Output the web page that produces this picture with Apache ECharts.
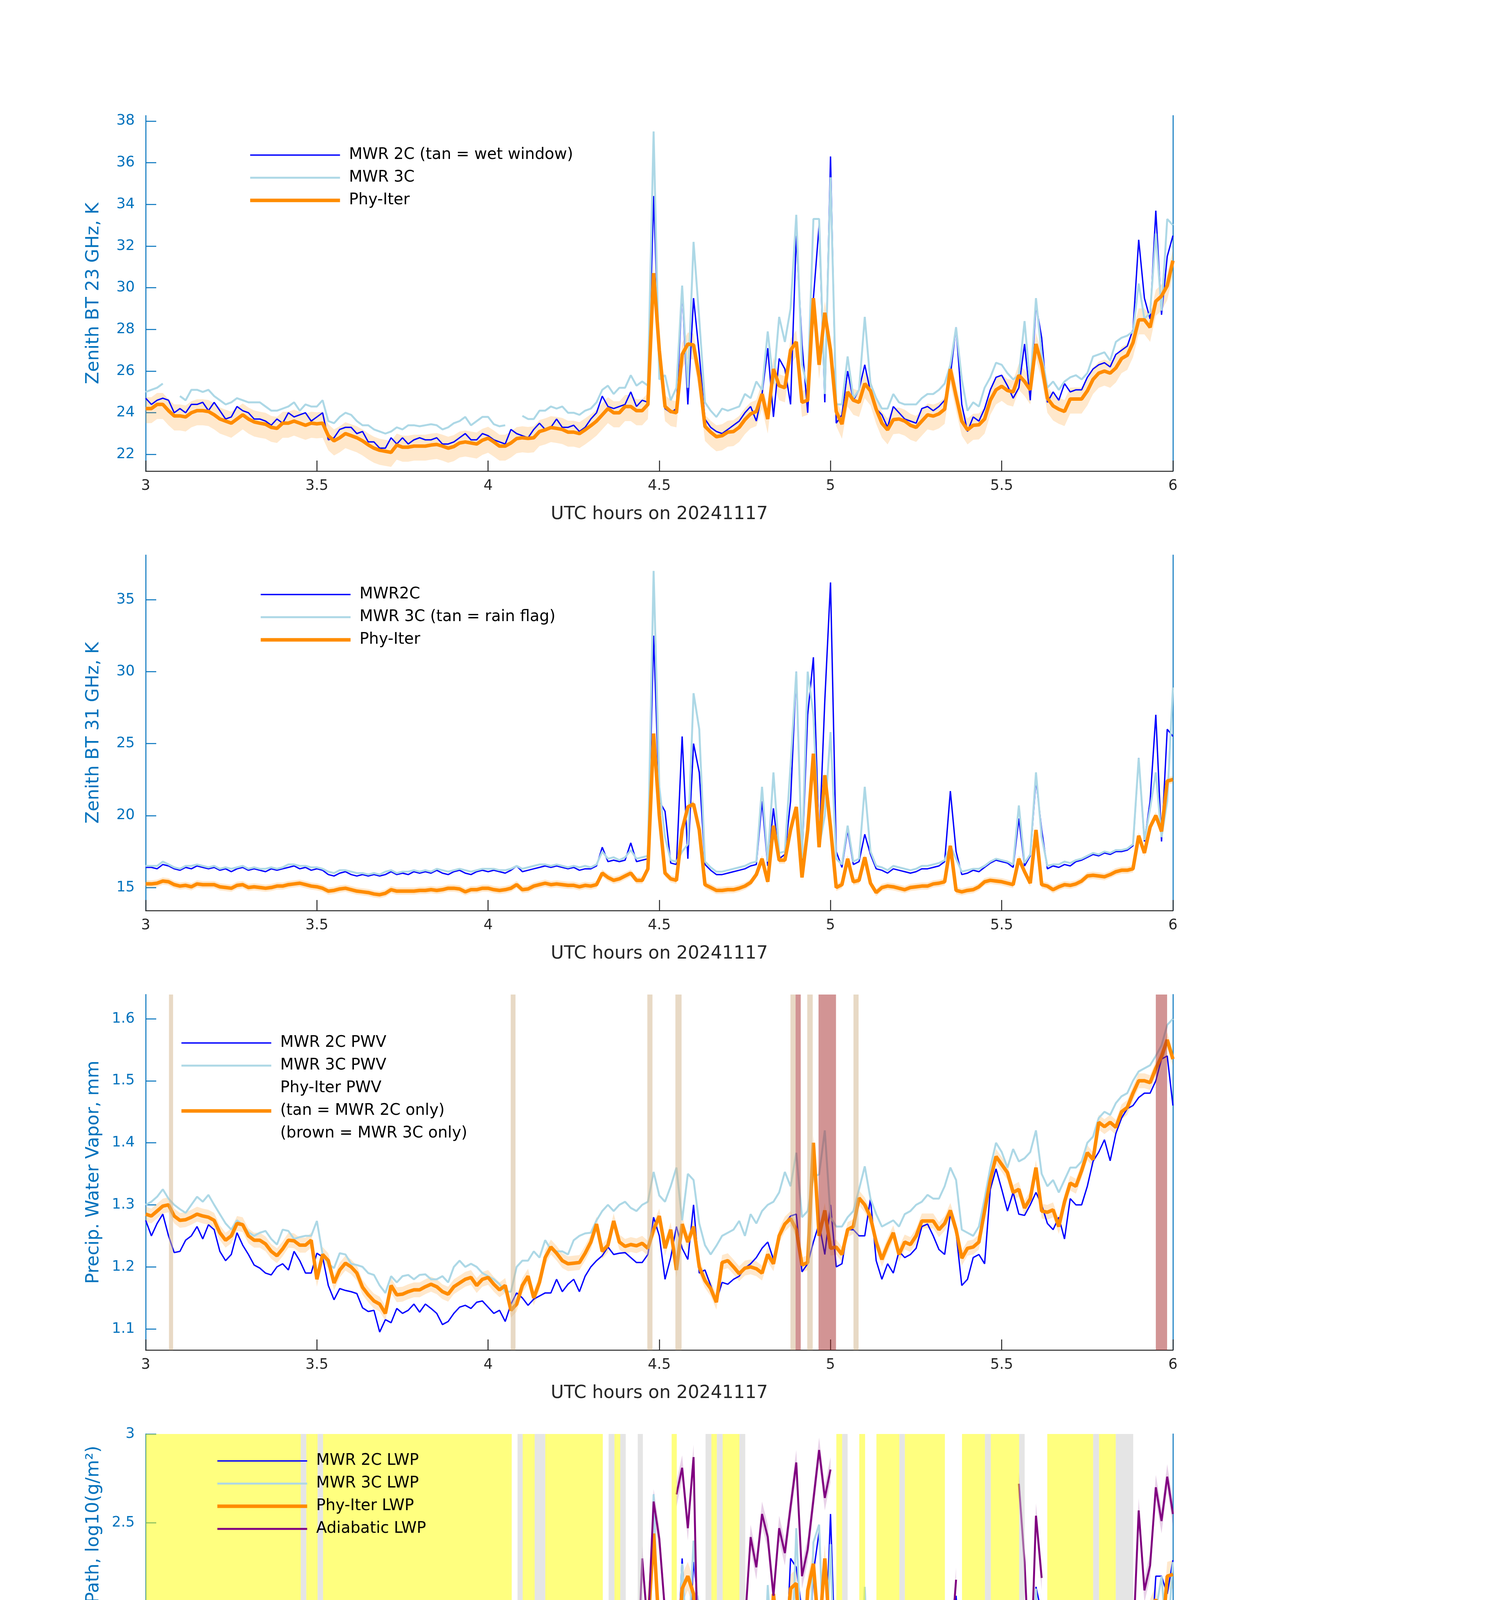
<!DOCTYPE html>
<html>
<head>
<meta charset="utf-8">
<title>MWR retrievals 20241117</title>
<script src="https://cdn.jsdelivr.net/npm/echarts@6/dist/echarts.min.js"></script>
<style>
  html, body { margin: 0; background: #fff; }
  #chart { width: 3825px; height: 6000px; }
</style>
</head>
<body>
<div id="chart"></div>
<script>
// ---- time grids (hours UTC) ----
const tMin = Array.from({ length: 181 }, (_, i) => 3 + i / 60);   // 1-min samples
const tFlag = Array.from({ length: 226 }, (_, k) => 3 + k / 75);  // 48-s flag samples

// ---- panel 1 : 23 GHz brightness temperature (K) ----
const bt23_2C = [
  24.7,24.4,24.6,24.7,24.6,24.0,24.2,24.0,24.4,24.4,
  24.5,24.1,24.5,24.1,23.7,23.8,24.3,24.1,24.0,23.7,
  23.7,23.6,23.4,23.7,23.5,24.0,23.8,23.9,24.0,23.6,
  23.8,24.0,22.7,22.8,23.2,23.3,23.3,23.0,23.1,22.6,
  22.6,22.3,22.3,22.8,22.5,22.8,22.5,22.7,22.8,22.7,
  22.7,22.8,22.5,22.5,22.6,22.8,23.0,22.7,22.7,23.0,
  22.9,22.7,22.6,22.5,23.2,23.0,22.9,22.8,23.2,23.5,
  23.2,23.3,23.7,23.3,23.3,23.4,23.1,23.3,23.7,24.0,
  24.8,24.3,24.2,24.3,24.4,25.0,24.3,24.6,24.5,34.4,
  26.5,24.2,24.0,24.2,29.9,24.4,29.5,26.8,23.7,23.3,
  23.1,23.0,23.2,23.4,23.6,24.0,24.3,23.6,24.9,27.1,
  23.8,26.6,26.1,24.4,32.5,27.3,24.0,29.5,33.0,24.5,
  36.3,23.5,23.9,26.0,24.6,25.1,26.3,25.0,24.2,23.9,
  23.3,24.3,24.0,23.7,23.6,23.5,24.2,24.3,24.1,24.3,
  24.6,25.8,28.1,24.4,23.1,23.8,23.6,24.2,25.1,25.7,
  25.8,25.3,24.7,25.2,27.3,24.6,29.2,27.6,24.5,25.0,
  24.6,25.4,25.0,25.1,25.1,25.7,26.1,26.3,26.4,26.2,
  26.8,27.0,27.2,28.0,32.3,29.5,28.5,33.7,28.7,31.5,
  32.5
];
const bt23_3C = [
  25.0,25.1,25.2,25.4,null,null,24.8,24.6,25.1,25.1,
  25.0,25.1,24.8,24.6,24.4,24.5,24.7,24.6,24.5,24.5,
  24.5,24.3,24.1,24.1,24.2,24.3,24.5,24.1,24.4,24.3,
  24.3,24.6,23.6,23.5,23.8,24.0,23.9,23.6,23.4,23.4,
  23.2,23.1,23.0,23.1,23.3,23.2,23.4,23.4,23.35,23.4,
  23.45,23.4,23.2,23.3,23.5,23.6,23.8,23.4,23.6,23.8,
  23.8,23.45,23.35,23.4,null,null,23.85,23.7,23.7,24.1,
  24.1,24.3,24.2,24.3,24.0,24.0,23.9,24.1,24.2,24.5,
  25.1,25.3,24.9,25.2,25.2,25.8,25.3,25.5,25.3,37.5,
  25.6,25.8,24.6,25.2,30.1,25.2,32.2,28.5,24.5,24.1,
  23.8,24.2,24.1,24.2,24.3,24.9,24.7,25.5,25.1,27.9,
  25.4,28.6,27.4,29.0,33.5,26.3,25.2,33.3,33.3,24.9,
  35.3,24.4,24.4,26.7,24.7,25.1,28.6,25.4,24.7,24.2,
  24.2,24.9,24.5,24.4,24.4,24.4,24.7,24.9,24.9,25.1,
  25.4,26.3,28.1,25.6,24.1,24.5,24.3,25.2,25.7,26.4,
  26.3,25.9,25.6,25.8,28.4,25.3,29.5,26.8,25.2,25.5,
  25.1,25.5,25.7,25.8,25.6,25.9,26.7,26.8,26.9,26.5,
  27.4,27.6,27.7,27.9,30.2,28.5,28.8,32.6,28.9,33.3,
  33.0
];
const bt23_phy = [
  24.2,24.2,24.4,24.4,24.1,23.85,23.85,23.8,24.0,24.1,
  24.1,24.06,23.9,23.7,23.6,23.5,23.7,23.9,23.7,23.56,
  23.5,23.45,23.3,23.25,23.5,23.5,23.6,23.5,23.4,23.5,
  23.47,23.5,22.9,22.65,22.8,23.0,22.9,22.8,22.65,22.46,
  22.3,22.2,22.15,22.1,22.45,22.35,22.35,22.4,22.4,22.4,
  22.45,22.48,22.4,22.3,22.38,22.55,22.6,22.55,22.5,22.68,
  22.78,22.6,22.4,22.4,22.55,22.76,22.8,22.77,22.8,23.1,
  23.18,23.29,23.25,23.2,23.07,23.07,23.0,23.18,23.38,23.6,
  23.9,24.2,24.0,24.0,24.3,24.3,24.1,24.1,24.4,30.7,
  27.0,24.3,24.06,24.0,26.8,27.3,27.25,25.7,23.35,23.07,
  22.85,22.9,23.07,23.1,23.3,23.67,23.95,24.06,24.9,23.7,
  26.1,25.3,25.2,27.0,27.4,24.5,24.6,29.5,26.3,28.8,
  27.0,24.06,23.45,25.0,24.6,24.5,25.4,25.05,24.17,23.5,
  23.18,23.67,23.7,23.6,23.4,23.3,23.6,23.9,23.84,23.95,
  24.17,26.1,24.8,23.6,23.18,23.4,23.42,23.7,24.6,25.1,
  25.27,25.07,25.0,25.8,25.5,25.1,27.3,26.3,24.7,24.33,
  24.17,24.06,24.66,24.66,24.66,25.05,25.6,25.9,26.0,25.9,
  26.15,26.6,26.76,27.36,28.46,28.46,28.1,29.35,29.6,30.1,
  31.3
];
const bt23_errLo = 0.7, bt23_errHi = 0.55;

// ---- panel 2 : 31 GHz brightness temperature (K) ----
const bt31_2C = [
  16.4,16.4,16.3,16.6,16.5,16.3,16.2,16.4,16.3,16.5,
  16.4,16.3,16.4,16.2,16.3,16.1,16.3,16.4,16.2,16.3,
  16.2,16.1,16.3,16.2,16.3,16.4,16.5,16.3,16.4,16.2,
  16.3,16.2,15.9,15.8,16.0,16.1,15.9,15.8,15.9,15.8,
  15.9,15.8,15.9,16.1,15.9,16.0,15.9,16.1,16.0,16.1,
  16.0,16.2,16.0,15.9,16.1,16.2,16.0,15.9,16.1,16.2,
  16.1,16.2,16.1,16.0,16.2,16.5,16.1,16.2,16.3,16.4,
  16.5,16.4,16.5,16.4,16.3,16.4,16.2,16.3,16.3,16.5,
  17.8,16.8,16.9,16.8,16.9,18.1,16.8,16.9,17.0,32.5,
  21.0,20.3,16.7,16.6,25.5,17.0,25.0,23.0,16.6,16.2,
  15.9,15.9,16.0,16.1,16.2,16.3,16.5,16.6,21.0,16.5,
  20.5,17.0,17.3,21.0,30.0,16.9,27.0,31.0,18.0,28.0,
  36.2,17.5,16.4,19.0,16.6,16.8,18.7,17.3,16.3,16.2,
  16.0,16.3,16.2,16.1,16.0,16.1,16.3,16.3,16.4,16.5,
  16.8,21.7,17.5,15.9,16.0,16.2,16.1,16.4,16.7,16.9,
  16.8,16.7,16.4,19.8,16.5,17.2,22.5,19.0,16.3,16.5,
  16.4,16.6,16.5,16.8,16.9,17.1,17.3,17.2,17.4,17.3,
  17.5,17.5,17.6,17.9,24.0,18.2,21.0,27.0,18.2,26.0,
  25.5
];
const bt31_3C = [
  16.5,16.5,16.5,16.8,16.6,16.4,16.3,16.5,16.5,16.6,
  16.5,16.4,16.5,16.3,16.4,16.3,16.4,16.5,16.3,16.4,
  16.3,16.3,16.4,16.3,16.4,16.6,16.6,16.5,16.5,16.4,
  16.4,16.3,16.1,16.0,16.2,16.2,16.1,16.0,16.0,15.9,
  16.0,15.9,16.1,16.2,16.0,16.1,16.1,16.2,16.1,16.2,
  16.1,16.3,16.2,16.1,16.2,16.3,16.2,16.1,16.2,16.3,
  16.3,16.3,16.2,16.2,16.3,16.5,16.3,16.4,16.5,16.6,
  16.6,16.5,16.6,16.5,16.4,16.5,16.4,16.5,16.4,16.6,
  17.5,17.0,17.1,16.9,17.1,17.6,17.0,17.1,17.2,37.0,
  22.0,18.5,16.9,16.8,17.5,18.0,28.5,26.0,16.8,16.4,
  16.1,16.1,16.2,16.3,16.4,16.5,16.7,16.8,22.0,16.8,
  23.0,17.4,17.5,23.5,30.0,17.0,30.0,27.0,17.8,20.0,
  25.8,17.0,16.6,19.3,16.8,17.0,22.0,17.5,16.5,16.4,
  16.2,16.5,16.4,16.3,16.2,16.3,16.5,16.5,16.6,16.7,
  16.9,17.9,17.0,16.1,16.2,16.3,16.3,16.5,16.8,17.0,
  16.9,16.8,16.6,20.7,16.7,17.3,23.0,18.5,16.5,16.6,
  16.6,16.8,16.7,16.9,17.0,17.2,17.4,17.3,17.5,17.4,
  17.6,17.6,17.7,18.0,24.0,18.3,20.5,23.0,18.5,21.0,
  28.9
];
const bt31_phy = [
  15.25,15.25,15.3,15.45,15.4,15.2,15.1,15.15,15.05,15.25,
  15.2,15.2,15.2,15.05,15.0,14.95,15.15,15.2,15.0,15.05,
  15.0,14.95,15.0,15.1,15.1,15.2,15.25,15.3,15.2,15.1,
  15.05,14.95,14.75,14.8,14.9,14.95,14.85,14.75,14.7,14.65,
  14.55,14.5,14.6,14.85,14.75,14.75,14.75,14.75,14.8,14.8,
  14.85,14.8,14.85,14.95,14.95,14.9,14.7,14.85,14.85,14.95,
  14.95,14.85,14.8,14.85,14.95,15.2,14.85,14.9,15.1,15.2,
  15.3,15.2,15.25,15.2,15.15,15.15,15.05,15.15,15.1,15.2,
  16.0,15.7,15.5,15.6,15.8,16.0,15.5,15.5,16.3,25.7,
  20.0,16.0,15.6,15.5,19.0,20.6,20.8,19.0,15.2,15.0,
  14.8,14.8,14.85,14.85,14.95,15.1,15.35,15.9,17.0,15.4,
  19.3,16.9,16.9,19.0,20.6,15.7,19.0,24.3,17.8,22.8,
  19.2,15.0,15.2,17.0,15.4,15.5,17.1,15.3,14.65,15.0,
  15.1,15.05,14.95,14.85,15.0,15.05,15.1,15.1,15.25,15.3,
  15.4,17.9,14.8,14.7,14.8,14.85,15.05,15.4,15.5,15.45,
  15.4,15.3,15.2,17.0,16.1,15.3,19.0,15.2,15.1,14.85,
  15.05,15.2,15.15,15.25,15.45,15.8,15.85,15.8,15.75,15.9,
  16.1,16.2,16.2,16.3,18.6,17.4,19.2,20.0,18.9,22.4,
  22.5
];
const bt31_errLo = 0.25, bt31_errHi = 0.25;

// ---- panel 3 : precipitable water vapour (mm) ----
const pwv_2C = [
  1.275,1.25,1.27,1.285,1.25,1.223,1.225,1.243,1.25,1.265,
  1.245,1.268,1.26,1.225,1.21,1.22,1.255,1.235,1.22,1.203,
  1.198,1.19,1.187,1.2,1.205,1.195,1.225,1.21,1.19,1.19,
  1.222,1.216,1.17,1.147,1.165,1.162,1.16,1.157,1.134,1.128,
  1.13,1.095,1.115,1.11,1.133,1.125,1.13,1.14,1.127,1.14,
  1.133,1.125,1.107,1.112,1.125,1.135,1.138,1.133,1.143,1.145,
  1.135,1.125,1.13,1.112,1.14,1.158,1.15,1.138,1.148,1.153,
  1.158,1.158,1.18,1.16,1.172,1.18,1.16,1.185,1.2,1.21,
  1.218,1.232,1.22,1.222,1.223,1.215,1.207,1.207,1.22,1.28,
  1.25,1.18,1.215,1.265,1.23,1.212,1.3,1.19,1.195,1.17,
  1.145,1.175,1.172,1.18,1.185,1.198,1.205,1.215,1.23,1.24,
  1.212,1.25,1.27,1.282,1.285,1.192,1.205,1.24,1.27,1.22,
  1.3,1.2,1.205,1.26,1.26,1.25,1.25,1.31,1.21,1.18,
  1.205,1.19,1.225,1.215,1.22,1.23,1.265,1.269,1.25,1.228,
  1.22,1.285,1.255,1.17,1.18,1.215,1.22,1.205,1.325,1.358,
  1.325,1.29,1.32,1.285,1.283,1.3,1.32,1.3,1.27,1.26,
  1.28,1.245,1.31,1.3,1.3,1.33,1.37,1.385,1.405,1.371,
  1.415,1.44,1.455,1.46,1.473,1.48,1.48,1.5,1.535,1.54,
  1.46
];
const pwv_3C = [
  1.30,1.305,1.313,1.325,1.31,1.3,1.293,1.287,1.3,1.313,
  1.305,1.316,1.3,1.285,1.27,1.26,1.275,1.268,1.256,1.25,
  1.255,1.258,1.245,1.236,1.26,1.258,1.245,1.248,1.25,1.25,
  1.274,1.22,1.205,1.198,1.222,1.22,1.205,1.203,1.2,1.19,
  1.187,1.17,1.158,1.185,1.175,1.185,1.187,1.18,1.187,1.188,
  1.18,1.18,1.185,1.175,1.2,1.21,1.2,1.205,1.2,1.19,
  1.185,1.18,1.172,1.16,1.16,1.2,1.21,1.21,1.225,1.215,
  1.243,1.228,1.225,1.225,1.22,1.243,1.25,1.254,1.255,1.275,
  1.29,1.30,1.29,1.3,1.305,1.295,1.29,1.3,1.305,1.353,
  1.315,1.305,1.33,1.36,1.275,1.35,1.34,1.27,1.235,1.22,
  1.234,1.25,1.255,1.26,1.274,1.25,1.285,1.27,1.29,1.3,
  1.305,1.32,1.353,1.33,1.384,1.28,1.29,1.345,1.349,1.42,
  1.28,1.265,1.265,1.28,1.29,1.325,1.362,1.31,1.285,1.265,
  1.27,1.275,1.265,1.285,1.29,1.3,1.305,1.316,1.31,1.31,
  1.33,1.36,1.34,1.26,1.255,1.25,1.265,1.31,1.36,1.40,
  1.385,1.36,1.39,1.37,1.375,1.385,1.42,1.35,1.33,1.34,
  1.32,1.34,1.36,1.36,1.37,1.40,1.41,1.44,1.45,1.445,
  1.464,1.475,1.48,1.5,1.515,1.52,1.525,1.54,1.557,1.59,
  1.6
];
const pwv_phy = [
  1.285,1.282,1.29,1.298,1.30,1.282,1.275,1.276,1.28,1.285,
  1.282,1.28,1.275,1.255,1.243,1.25,1.27,1.268,1.25,1.243,
  1.243,1.237,1.225,1.218,1.229,1.243,1.242,1.235,1.235,1.243,
  1.18,1.22,1.21,1.174,1.195,1.206,1.2,1.19,1.167,1.155,
  1.145,1.14,1.125,1.17,1.155,1.156,1.16,1.163,1.163,1.168,
  1.172,1.168,1.16,1.156,1.168,1.174,1.18,1.183,1.17,1.18,
  1.183,1.172,1.163,1.17,1.13,1.14,1.17,1.185,1.15,1.175,
  1.215,1.232,1.222,1.21,1.205,1.206,1.207,1.222,1.24,1.269,
  1.225,1.235,1.274,1.24,1.233,1.236,1.234,1.238,1.23,1.26,
  1.282,1.23,1.26,1.195,1.269,1.24,1.265,1.2,1.178,1.165,
  1.143,1.207,1.21,1.2,1.189,1.198,1.2,1.197,1.19,1.22,
  1.205,1.25,1.269,1.278,1.26,1.203,1.207,1.40,1.25,1.291,
  1.23,1.232,1.22,1.26,1.265,1.311,1.30,1.28,1.24,1.212,
  1.235,1.255,1.22,1.24,1.236,1.25,1.274,1.274,1.274,1.26,
  1.27,1.291,1.26,1.214,1.23,1.232,1.24,1.29,1.34,1.378,
  1.365,1.352,1.32,1.325,1.295,1.31,1.36,1.29,1.288,1.292,
  1.265,1.305,1.335,1.33,1.355,1.384,1.373,1.433,1.426,1.433,
  1.425,1.45,1.457,1.48,1.50,1.50,1.497,1.52,1.539,1.566,
  1.535
];
const pwv_err = 0.012;
const pwvTanSpans = [[3.068,3.080],[4.066,4.080],[4.465,4.480],[4.547,4.565],[4.883,4.898],[4.932,4.948],[5.067,5.082]];
const pwvBrownSpans = [[4.898,4.913],[4.965,5.016],[5.950,5.983]];

// ---- panel 4 : log10 liquid water path ----
const lwp_2C = [
  1.505,1.5,1.39,1.42,1.48,1.4,1.46,1.42,1.38,1.48,
  1.44,1.41,1.45,1.44,1.46,1.39,1.47,1.47,1.44,1.45,
  1.39,1.48,1.47,1.46,1.43,1.49,1.45,1.5,1.52,1.56,
  1.56,1.5,1.49,1.49,1.44,1.5,1.53,1.43,1.48,1.46,
  1.45,1.55,1.47,1.46,1.58,1.5,1.54,1.5,1.49,1.49,
  1.5,1.5,1.55,1.52,1.52,1.55,1.55,1.52,1.47,1.51,
  1.55,1.52,1.48,1.56,1.6,1.54,1.48,1.52,1.54,1.59,
  1.57,1.58,1.56,1.51,1.56,1.5,1.51,1.54,1.55,1.5,
  1.64,1.7,1.56,1.57,1.6,1.75,1.54,1.59,1.58,2.66,
  1.7,1.64,1.56,1.62,2.3,1.72,2.28,2.0,1.54,1.49,
  1.51,1.5,1.48,1.55,1.55,1.6,1.62,1.61,1.62,2.06,
  1.66,2.0,1.6,2.3,2.25,2.0,1.6,2.22,2.45,1.7,
  2.55,1.56,1.51,1.52,1.86,1.53,1.55,1.54,1.52,1.48,
  1.47,1.46,1.5,1.46,1.43,1.4,1.44,1.39,1.47,1.5,
  1.47,1.66,2.09,1.68,1.41,1.45,1.43,1.45,1.4,1.47,
  1.43,1.45,1.48,1.43,1.81,1.44,2.14,1.99,1.38,1.46,
  1.45,1.41,1.39,1.47,1.33,1.4,1.47,1.5,1.43,1.47,
  1.43,1.54,1.48,1.72,2.0,1.89,1.7,2.2,2.2,2.1,
  2.29
];
const lwp_3C = [
  1.28,1.25,1.3,1.34,null,null,1.28,1.26,1.2,1.28,
  1.27,1.26,1.28,1.22,1.26,1.28,1.31,1.29,1.29,1.27,
  1.28,1.27,1.28,1.26,1.3,1.24,1.33,1.37,1.38,1.39,
  1.41,1.35,1.34,1.3,1.31,1.33,1.32,1.32,1.33,1.3,
  1.32,1.27,1.3,1.33,1.33,1.34,1.33,1.32,1.33,1.35,
  1.36,1.35,1.36,1.37,1.38,1.39,1.36,1.35,1.33,1.35,
  1.34,1.39,1.36,1.35,1.39,null,1.33,1.37,1.38,1.42,
  1.41,1.39,1.38,1.39,1.38,1.37,1.36,1.37,1.39,1.4,
  1.45,1.57,1.43,1.4,1.44,1.48,1.44,1.47,1.52,2.66,
  1.7,1.49,1.38,1.5,2.27,1.72,2.4,1.9,1.3,1.29,
  1.32,1.33,1.29,1.32,1.36,1.52,1.55,1.75,1.33,2.15,
  1.65,1.7,1.85,1.5,2.47,1.7,1.35,2.39,2.49,1.6,
  2.38,1.3,1.29,1.28,1.4,1.31,2.14,1.35,1.34,1.33,
  1.31,1.31,1.32,1.23,1.23,1.23,1.24,1.23,1.22,1.23,
  1.33,1.5,2.01,1.28,1.16,1.15,1.19,1.19,1.22,1.28,
  1.3,1.29,1.29,1.42,1.72,1.46,2.13,1.46,1.18,1.2,
  1.17,1.21,1.17,1.2,1.25,1.2,1.22,1.23,1.25,1.3,
  1.28,1.27,1.37,1.38,1.5,1.7,1.65,2.0,2.2,1.8,
  2.28
];
const lwp_phy = [
  null,null,null,null,null,null,null,null,null,null,
  null,null,null,null,null,null,null,null,null,null,
  null,null,null,null,null,null,null,null,null,null,
  null,null,null,null,null,null,null,null,null,null,
  null,null,null,null,null,null,null,null,null,null,
  null,null,null,null,null,null,null,null,null,null,
  null,null,null,null,1.54,1.47,null,null,1.54,1.60,
  null,null,null,null,null,null,null,null,null,null,
  1.62,1.55,null,1.59,1.56,1.50,1.47,1.52,1.90,2.44,
  1.88,1.57,1.58,1.61,2.13,2.2,2.1,1.5,1.46,null,
  null,null,null,null,1.45,1.59,1.61,1.51,1.87,1.48,
  2.1,1.77,1.77,2.13,2.16,1.56,2.12,2.27,1.86,2.3,
  1.81,null,1.34,1.75,1.48,null,1.81,1.39,null,null,
  null,null,null,null,null,null,null,null,null,null,
  1.35,1.92,1.43,null,null,null,null,null,null,null,
  null,null,null,1.66,1.57,1.68,2.0,1.62,null,null,
  null,null,null,null,null,null,null,null,null,null,
  1.34,1.39,1.22,1.77,1.89,1.67,1.99,2.07,1.81,2.2,
  2.21
];
const lwp_adia = [
  null,null,null,null,null,null,null,null,null,null,
  null,null,null,null,null,null,null,null,null,null,
  null,null,null,null,null,null,null,null,null,null,
  null,null,null,null,null,null,null,null,null,null,
  null,null,null,null,null,null,null,null,null,null,
  null,null,null,null,null,null,null,null,null,null,
  null,null,null,null,1.40,1.16,null,null,1.50,1.16,
  null,null,null,null,null,null,null,null,null,null,
  1.33,1.15,null,1.15,1.68,1.64,1.49,2.30,1.90,2.62,
  2.41,2.0,null,2.66,2.81,2.47,2.87,1.31,1.44,null,
  null,null,null,null,1.43,1.93,2.42,2.25,2.55,2.42,
  2.09,2.47,2.33,2.59,2.84,2.2,2.35,2.63,2.91,2.64,
  2.8,null,1.75,1.81,1.48,null,null,null,null,null,
  null,null,null,null,null,null,null,null,null,null,
  null,1.75,2.18,null,null,null,null,null,null,null,
  null,null,null,2.72,2.28,1.57,2.54,2.19,null,null,
  null,null,null,null,null,null,null,null,null,null,
  1.15,1.15,1.43,1.8,2.57,2.12,2.26,2.7,2.51,2.76,
  2.55
];
const lwp_phyErr = 0.08, lwp_adiaErr = 0.07;
const lwpMarkTimes = [3.51, 4.676, 5.209, 5.459, 5.774];
const lwpMarkAdia = [1.16, 1.16, 1.16, 1.16, 1.16];
const lwpMarkPhy = [1.49, 1.45, 1.335, 1.31, 1.44];
const lwpYellowSpans = [[3.0,3.453],[3.469,3.502],[3.518,4.069],[4.101,4.136],[4.167,4.335],[4.369,4.386],
  [4.536,4.551],[4.652,4.668],[4.685,4.734],[5.017,5.034],[5.084,5.101],[5.134,5.201],[5.217,5.334],
  [5.384,5.451],[5.468,5.551],[5.633,5.767],[5.784,5.833]];
const lwpGraySpans = [[3.453,3.469],[3.502,3.518],[4.086,4.101],[4.136,4.167],[4.352,4.369],[4.386,4.402],
  [4.437,4.452],[4.635,4.652],[4.668,4.685],[4.734,4.751],[5.034,5.05],[5.201,5.217],[5.451,5.468],
  [5.551,5.567],[5.767,5.784],[5.833,5.884]];
// [t0, t1, yLow, yHigh]
const lwpAdiaPatches = [[3.502,3.518,1,1.62],[4.069,4.101,1,1.68],[4.136,4.167,1,1.75],[4.335,4.369,1,1.72],
  [4.625,4.652,1,1.8],[4.668,4.685,1,1.5],[4.734,4.761,1,1.78],[5.034,5.084,1.13,1.98],[5.201,5.217,1,1.45],
  [5.334,5.351,1.04,1.7],[5.451,5.468,1,1.45],[5.767,5.784,1,1.58],[5.833,5.884,1,1.55]];

// ---- panel 5 : Phy-Iter data quality flag ----
const dqFlag = [
  5,5,5,5,5,5,5,5,5,5, 5,5,5,5,5,5,5,5,5,5, 5,5,5,5,5,5,5,5,5,5, 5,5,5,5,
  4,null,5,5,4,
  5,5,5,5,5,5,5,5,5,5, 5,5,5,5,5,5,5,5,5,5, 5,5,5,5,5,5,5,5,5,5, 5,5,5,5,5,5,5,5,5,5, 5,
  0,null,4,5,5,null,3,4,
  5,5,5,5,5,5,5,5,5,5,5,5,
  null,0,4,5,4,0,0,null,4,
  0,0,0,0,0,0,
  5,null,
  0,0,0,0,0,0,
  4,5,3,null,5,5,5,4,null,
  0,0,0,0,0,0,0,0,0,0,0,0,0,0,
  null,6,0,0,0,null,5,3,0,0,null,5,0,0,
  5,5,5,5,5,
  4,
  5,5,5,5,5,5,5,5,5,
  0,0,0,
  null,
  5,5,5,5,5,
  4,
  5,5,5,5,5,5,
  3,null,
  0,0,0,0,
  null,
  5,5,5,5,5,5,5,5,5,5,
  4,
  5,5,5,
  null,
  4,4,4,
  null,
  0,0,0,0,0,0,0,0,0
];

// ---- axes ----
const yNames = ['Zenith BT 23 GHz, K', 'Zenith BT 31 GHz, K', 'Precip. Water Vapor, mm',
  'log10 Liquid Water Path, log10(g/m²)', 'MWR Phy Iter DQ Flag'];
const yRanges = [[21.2, 38.26], [13.4, 38.1], [1.066, 1.639], [1, 3], [-0.52, 11.52]];
const yTicks = [[22,24,26,28,30,32,34,36,38], [15,20,25,30,35], [1.1,1.2,1.3,1.4,1.5,1.6],
  [1,1.5,2,2.5,3], [0,2,4,6,8,10]];
const xTitle = 'UTC hours on 20241117';

// ---- styling ----
const FONT = 'DejaVu Sans';
const AX = '#0072BD';
const INK = '#262626';
const C_2C = '#0000FF', C_3C = '#ADD8E6', C_PHY = '#FF8C00', C_ADIA = '#800080';
const W_2C = 3.5, W_3C = 5, W_PHY = 9, W_ADIA = 5;
const TOPS = [296, 1421, 2546, 3671, 4795];
const GRID_H = 910;

const pair = (vals, times) => vals.map((v, i) => [times[i], v]);

function line(g, name, vals, color, width) {
  return {
    name, type: 'line', xAxisIndex: g, yAxisIndex: 2 * g,
    data: pair(vals, tMin), symbol: 'none', connectNulls: false, silent: true, z: 3,
    lineStyle: { color, width }, itemStyle: { color }
  };
}

// shaded uncertainty envelope drawn as polygons through the axis scales
function band(g, vals, lo, hi, color) {
  return {
    type: 'custom', xAxisIndex: g, yAxisIndex: 2 * g, silent: true, z: 2,
    data: [[3, vals.find(v => v != null)]],
    renderItem: (params, api) => {
      const children = [];
      let seg = [];
      const flush = () => {
        if (seg.length > 1) {
          const up = seg.map(p => api.coord([p[0], p[1] + hi]));
          const dn = seg.slice().reverse().map(p => api.coord([p[0], p[1] - lo]));
          children.push({ type: 'polygon', shape: { points: up.concat(dn) }, style: { fill: color } });
        }
        seg = [];
      };
      vals.forEach((v, i) => { if (v == null) flush(); else seg.push([tMin[i], v]); });
      flush();
      return { type: 'group', children };
    }
  };
}

function overlay(g, spans, color, z) {
  return {
    type: 'line', xAxisIndex: g, yAxisIndex: 2 * g, data: [], silent: true, z,
    markArea: {
      silent: true, z, itemStyle: { color },
      data: spans.map(s => s.length === 2
        ? [{ xAxis: s[0] }, { xAxis: s[1] }]
        : [{ xAxis: s[0], yAxis: s[2] }, { xAxis: s[1], yAxis: s[3] }])
    }
  };
}

function legend(names, left, centerY) {
  return {
    orient: 'vertical', left, top: centerY - 29, itemWidth: 230, itemHeight: 20, itemGap: 0,
    selectedMode: false, z: 20, itemStyle: { opacity: 0 }, lineStyle: { width: 'inherit' },
    textStyle: { fontFamily: FONT, fontSize: 40, color: '#000', lineHeight: 58, padding: [0, 0, 0, 18] },
    data: names
  };
}

const grids = TOPS.map(t => ({ left: 373, width: 2630, top: t, height: GRID_H }));

const xAxes = TOPS.map((_, g) => ({
  gridIndex: g, type: 'value', min: 3, max: 6, interval: 0.5,
  axisLine: { onZero: false, lineStyle: { color: INK, width: 2.5 } },
  axisTick: { inside: true, length: 27, lineStyle: { color: INK, width: 2.5 } },
  axisLabel: { color: INK, fontSize: 37, fontFamily: FONT, margin: 20 },
  splitLine: { show: false },
  name: xTitle, nameLocation: 'middle', nameGap: 88,
  nameTextStyle: { fontSize: 46, color: INK, fontFamily: FONT }
}));

const yAxes = [];
TOPS.forEach((_, g) => {
  yAxes.push({
    gridIndex: g, type: 'value', position: 'left', min: yRanges[g][0], max: yRanges[g][1],
    axisLine: { show: true, onZero: false, lineStyle: { color: AX, width: 2.5 } },
    axisTick: { show: true, inside: true, length: 27, customValues: yTicks[g], lineStyle: { color: AX, width: 2.5 } },
    axisLabel: { customValues: yTicks[g], color: AX, fontSize: 37, fontFamily: FONT, margin: 28 },
    splitLine: { show: false },
    name: yNames[g], nameLocation: 'middle', nameGap: 110,
    nameTextStyle: { fontSize: 46, color: AX, fontFamily: FONT }
  });
  yAxes.push({
    gridIndex: g, type: 'value', position: 'right', min: yRanges[g][0], max: yRanges[g][1],
    axisLine: { show: true, onZero: false, lineStyle: { color: AX, width: 2.5 } },
    axisTick: { show: false }, axisLabel: { show: false }, splitLine: { show: false }
  });
});

const P3_PHY = 'Phy-Iter PWV\n(tan = MWR 2C only)\n(brown = MWR 3C only)';
const XMARK = 'path://M0,1.5L1.5,0L5,3.5L8.5,0L10,1.5L6.5,5L10,8.5L8.5,10L5,6.5L1.5,10L0,8.5L3.5,5Z';
const PEACH = 'rgba(255,140,0,0.2)';

const series = [
  // panel 1
  band(0, bt23_phy, bt23_errLo, bt23_errHi, PEACH),
  line(0, 'MWR 2C (tan = wet window)', bt23_2C, C_2C, W_2C),
  line(0, 'MWR 3C', bt23_3C, C_3C, W_3C),
  line(0, 'Phy-Iter', bt23_phy, C_PHY, W_PHY),
  // panel 2
  band(1, bt31_phy, bt31_errLo, bt31_errHi, PEACH),
  line(1, 'MWR2C', bt31_2C, C_2C, W_2C),
  line(1, 'MWR 3C (tan = rain flag)', bt31_3C, C_3C, W_3C),
  line(1, 'Phy-Iter', bt31_phy, C_PHY, W_PHY),
  // panel 3
  band(2, pwv_phy, pwv_err, pwv_err, PEACH),
  line(2, 'MWR 2C PWV', pwv_2C, C_2C, W_2C),
  line(2, 'MWR 3C PWV', pwv_3C, C_3C, W_3C),
  line(2, P3_PHY, pwv_phy, C_PHY, W_PHY),
  overlay(2, pwvTanSpans, 'rgba(210,180,140,0.5)', 10),
  overlay(2, pwvBrownSpans, 'rgba(165,42,42,0.5)', 10),
  // panel 4
  band(3, lwp_phy, lwp_phyErr, lwp_phyErr, PEACH),
  band(3, lwp_adia, lwp_adiaErr, lwp_adiaErr, 'rgba(128,0,128,0.18)'),
  line(3, 'MWR 2C LWP', lwp_2C, C_2C, W_2C),
  line(3, 'MWR 3C LWP', lwp_3C, C_3C, W_3C),
  line(3, 'Phy-Iter LWP', lwp_phy, C_PHY, W_PHY),
  line(3, 'Adiabatic LWP', lwp_adia, C_ADIA, W_ADIA),
  overlay(3, lwpYellowSpans, 'rgba(255,255,0,0.5)', 10),
  overlay(3, lwpGraySpans, 'rgba(204,204,204,0.5)', 10),
  overlay(3, lwpAdiaPatches, 'rgba(128,0,128,0.15)', 10),
  {
    type: 'scatter', xAxisIndex: 3, yAxisIndex: 6, symbol: XMARK, symbolSize: 22, silent: true, z: 12,
    itemStyle: { color: 'rgba(255,140,0,0.6)' }, data: pair(lwpMarkPhy, lwpMarkTimes)
  },
  {
    type: 'scatter', xAxisIndex: 3, yAxisIndex: 6, symbol: XMARK, symbolSize: 22, silent: true, z: 12,
    itemStyle: { color: 'rgba(128,0,128,0.5)' }, data: pair(lwpMarkAdia, lwpMarkTimes)
  },
  // panel 5
  {
    name: 'DQ flag', type: 'scatter', xAxisIndex: 4, yAxisIndex: 8, symbol: 'circle', symbolSize: 9,
    silent: true, itemStyle: { color: C_PHY }, data: pair(dqFlag, tFlag)
  }
];

const option = {
  animation: false,
  backgroundColor: '#fff',
  textStyle: { fontFamily: FONT },
  grid: grids,
  xAxis: xAxes,
  yAxis: yAxes,
  legend: [
    legend(['MWR 2C (tan = wet window)', 'MWR 3C', 'Phy-Iter'], 631, 392),
    legend(['MWR2C', 'MWR 3C (tan = rain flag)', 'Phy-Iter'], 658, 1517),
    legend(['MWR 2C PWV', 'MWR 3C PWV', P3_PHY], 455, 2665),
    legend(['MWR 2C LWP', 'MWR 3C LWP', 'Phy-Iter LWP', 'Adiabatic LWP'], 547, 3735)
  ],
  series
};

const chart = echarts.init(document.getElementById('chart'), null, { renderer: 'canvas' });
chart.setOption(option);
</script>
</body>
</html>
